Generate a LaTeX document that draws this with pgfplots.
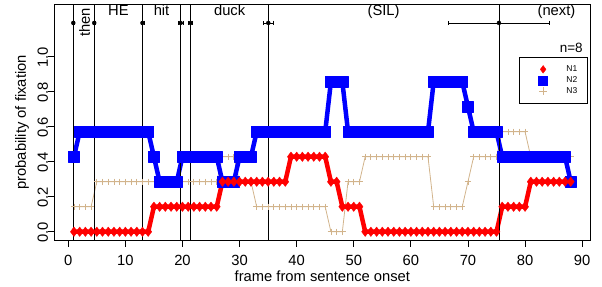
\documentclass[border=0pt]{standalone}
\usepackage{fontspec}
\setmainfont{Liberation Sans}
\usepackage{pgfplots}
\pgfplotsset{compat=1.18}
\definecolor{rtan}{HTML}{D2B48C}
\newcommand{\mainfs}{\fontsize{14.8}{17}\selectfont}
\begin{document}
\begin{tikzpicture}
\useasboundingbox (-54.1bp,-46.5bp) rectangle (547.9bp,240.5bp);
\begin{axis}[
  at={(0,0)}, anchor=south west,
  scale only axis, width=536.5bp, height=236.3bp,
  xmin=-2.48, xmax=91.48, ymin=-0.05, ymax=1.3,
  axis line style={line width=0.8bp},
  tick align=outside, tick pos=left,
  major tick length=6bp,
  every tick/.style={black, line width=0.8bp},
  xtick={0,10,...,90}, xticklabels={0,10,20,30,40,50,60,70,80,90},
  ytick={0,0.2,0.4,0.6,0.8,1.0}, yticklabels={0.0,0.2,0.4,0.6,0.8,1.0},
  /pgf/number format/assume math mode=true,
  tick label style={font=\mainfs},
  xticklabel style={anchor=north, inner sep=0pt, yshift=-9bp},
  yticklabel style={rotate=90, anchor=south, inner sep=0pt, xshift=-1bp},
  xlabel={frame from sentence onset},
  ylabel={probability of fixation},
  label style={font=\mainfs},
  xlabel style={at={(axis description cs:0.5,0)}, anchor=center, yshift=-35.5bp},
  ylabel style={at={(axis description cs:0,0.5)}, anchor=center, yshift=32bp},
  legend style={at={(axis description cs:0.8666,0.7766)}, anchor=north west,
    draw=black, line width=0.8bp, inner xsep=0pt, inner ysep=6.5bp,
    row sep=0pt, column sep=0pt,
    nodes={inner sep=0pt, font=\fontsize{8.5}{10}\selectfont}},
  legend cell align=left,
  legend image code/.code={\path[draw=none,fill=none] (0bp,-5.45bp) rectangle (47bp,5.45bp);
    \draw[#1] plot coordinates {(23.7bp,0bp)};},
]
% legend images
\addlegendimage{only marks, mark=diamond*, mark size=3.85bp, color=red, mark options={fill=red, line width=0.3bp}}
\addlegendentry{N1\hspace*{10.3bp}}
\addlegendimage{only marks, mark=square*, mark size=4.5bp, color=blue, mark options={fill=blue, line width=0.3bp}}
\addlegendentry{N2\hspace*{10.3bp}}
\addlegendimage{only marks, mark=+, mark size=4bp, color=rtan, mark options={line width=0.8bp}}
\addlegendentry{N3\hspace*{10.3bp}}

% N3 (tan)
\addplot[forget plot, rtan, line width=0.8bp, mark=+, mark size=3.2bp,
  mark options={line width=0.8bp}] coordinates {
(1,0.1429)(2,0.1429)(3,0.1429)(4,0.1429)
(5,0.2857)(6,0.2857)(7,0.2857)(8,0.2857)(9,0.2857)(10,0.2857)(11,0.2857)(12,0.2857)(13,0.2857)(14,0.2857)(15,0.2857)(16,0.2857)(17,0.2857)(18,0.2857)(19,0.2857)(20,0.2857)(21,0.2857)(22,0.2857)(23,0.2857)(24,0.2857)(25,0.2857)(26,0.2857)
(27,0.4286)(28,0.4286)(29,0.4286)
(30,0.2857)(31,0.2857)(32,0.2857)
(33,0.1429)(34,0.1429)(35,0.1429)(36,0.1429)(37,0.1429)(38,0.1429)(39,0.1429)(40,0.1429)(41,0.1429)(42,0.1429)(43,0.1429)(44,0.1429)(45,0.1429)
(46,0)(47,0)(48,0)
(49,0.2857)(50,0.2857)(51,0.2857)
(52,0.4286)(53,0.4286)(54,0.4286)(55,0.4286)(56,0.4286)(57,0.4286)(58,0.4286)(59,0.4286)(60,0.4286)(61,0.4286)(62,0.4286)(63,0.4286)
(64,0.1429)(65,0.1429)(66,0.1429)(67,0.1429)(68,0.1429)(69,0.1429)
(70,0.2857)
(71,0.4286)(72,0.4286)(73,0.4286)(74,0.4286)(75,0.4286)
(76,0.5714)(77,0.5714)(78,0.5714)(79,0.5714)(80,0.5714)
(81,0.4286)(82,0.4286)(83,0.4286)(84,0.4286)(85,0.4286)(86,0.4286)(87,0.4286)(88,0.4286)
};

% N2 (blue)
\addplot[forget plot, blue, line width=4.5bp, line join=round, line cap=round,
  mark=square*, mark size=5.35bp, mark options={line width=0.3bp, fill=blue}] coordinates {
(1,0.4286)
(2,0.5714)(3,0.5714)(4,0.5714)(5,0.5714)(6,0.5714)(7,0.5714)(8,0.5714)(9,0.5714)(10,0.5714)(11,0.5714)(12,0.5714)(13,0.5714)(14,0.5714)
(15,0.4286)
(16,0.2857)(17,0.2857)(18,0.2857)(19,0.2857)
(20,0.4286)(21,0.4286)(22,0.4286)(23,0.4286)(24,0.4286)(25,0.4286)(26,0.4286)
(27,0.2857)(28,0.2857)(29,0.2857)
(30,0.4286)(31,0.4286)(32,0.4286)
(33,0.5714)(34,0.5714)(35,0.5714)(36,0.5714)(37,0.5714)(38,0.5714)(39,0.5714)(40,0.5714)(41,0.5714)(42,0.5714)(43,0.5714)(44,0.5714)(45,0.5714)
(46,0.8571)(47,0.8571)(48,0.8571)
(49,0.5714)(50,0.5714)(51,0.5714)(52,0.5714)(53,0.5714)(54,0.5714)(55,0.5714)(56,0.5714)(57,0.5714)(58,0.5714)(59,0.5714)(60,0.5714)(61,0.5714)(62,0.5714)(63,0.5714)
(64,0.8571)(65,0.8571)(66,0.8571)(67,0.8571)(68,0.8571)(69,0.8571)
(70,0.7143)
(71,0.5714)(72,0.5714)(73,0.5714)(74,0.5714)(75,0.5714)
(76,0.4286)(77,0.4286)(78,0.4286)(79,0.4286)(80,0.4286)(81,0.4286)(82,0.4286)(83,0.4286)(84,0.4286)(85,0.4286)(86,0.4286)(87,0.4286)
(88,0.2857)
};

% N1 (red)
\addplot[forget plot, red, line width=4.5bp, line join=round, line cap=round,
  mark=diamond*, mark size=4.8bp, mark options={line width=0.3bp, fill=red}] coordinates {
(1,0)(2,0)(3,0)(4,0)(5,0)(6,0)(7,0)(8,0)(9,0)(10,0)(11,0)(12,0)(13,0)(14,0)
(15,0.1429)(16,0.1429)(17,0.1429)(18,0.1429)(19,0.1429)(20,0.1429)(21,0.1429)(22,0.1429)(23,0.1429)(24,0.1429)(25,0.1429)(26,0.1429)
(27,0.2857)(28,0.2857)(29,0.2857)(30,0.2857)(31,0.2857)(32,0.2857)(33,0.2857)(34,0.2857)(35,0.2857)(36,0.2857)(37,0.2857)(38,0.2857)
(39,0.4286)(40,0.4286)(41,0.4286)(42,0.4286)(43,0.4286)(44,0.4286)(45,0.4286)
(46,0.2857)(47,0.2857)
(48,0.1429)(49,0.1429)(50,0.1429)(51,0.1429)
(52,0)(53,0)(54,0)(55,0)(56,0)(57,0)(58,0)(59,0)(60,0)(61,0)(62,0)(63,0)(64,0)(65,0)(66,0)(67,0)(68,0)(69,0)(70,0)(71,0)(72,0)(73,0)(74,0)(75,0)
(76,0.1429)(77,0.1429)(78,0.1429)(79,0.1429)(80,0.1429)
(81,0.2857)(82,0.2857)(83,0.2857)(84,0.2857)(85,0.2857)(86,0.2857)(87,0.2857)(88,0.2857)
};

% word boundaries
\addplot[forget plot, black, line width=0.7bp] coordinates {(0.88,-0.1)(0.88,1.4)};
\addplot[forget plot, black, line width=0.7bp] coordinates {(4.55,-0.1)(4.55,1.4)};
\addplot[forget plot, black, line width=0.7bp] coordinates {(13.0,-0.1)(13.0,1.4)};
\addplot[forget plot, black, line width=0.7bp] coordinates {(19.68,-0.1)(19.68,1.4)};
\addplot[forget plot, black, line width=0.7bp] coordinates {(21.45,-0.1)(21.45,1.4)};
\addplot[forget plot, black, line width=0.7bp] coordinates {(35.03,-0.1)(35.03,1.4)};
\addplot[forget plot, black, line width=0.7bp] coordinates {(75.43,-0.1)(75.43,1.4)};

% error bars of boundaries
\addplot[forget plot, black, only marks, mark=none,
  error bars/.cd, x dir=both, x explicit,
  error bar style={line width=0.8bp, black},
  error mark options={black, mark size=2.2bp, line width=0.8bp, rotate=90}] coordinates {
(0.88,1.193) +- (0.15,0)
(4.55,1.193) +- (0.15,0)
(13.0,1.193) +- (0.25,0)
(19.68,1.193) +- (0.44,0)
(21.45,1.193) +- (0.35,0)
(35.03,1.193) +- (0.88,0)
(75.43,1.193) +- (8.9,0)
};

% words
\node[font=\mainfs, rotate=90, anchor=center] at (axis cs:2.85,1.195) {then};
\node[font=\mainfs, anchor=base] at (axis cs:8.78,1.237) {HE};
\node[font=\mainfs, anchor=base] at (axis cs:16.34,1.237) {hit};
\node[font=\mainfs, anchor=base] at (axis cs:28.26,1.237) {duck};
\node[font=\mainfs, anchor=base] at (axis cs:55.23,1.237) {(SIL)};
\node[font=\mainfs, anchor=base] at (axis cs:85.5,1.237) {(next)};
\node[font=\fontsize{13.5}{16}\selectfont, anchor=center] at (axis cs:88.09,1.051) {n=8};
\end{axis}
\end{tikzpicture}
\end{document}
